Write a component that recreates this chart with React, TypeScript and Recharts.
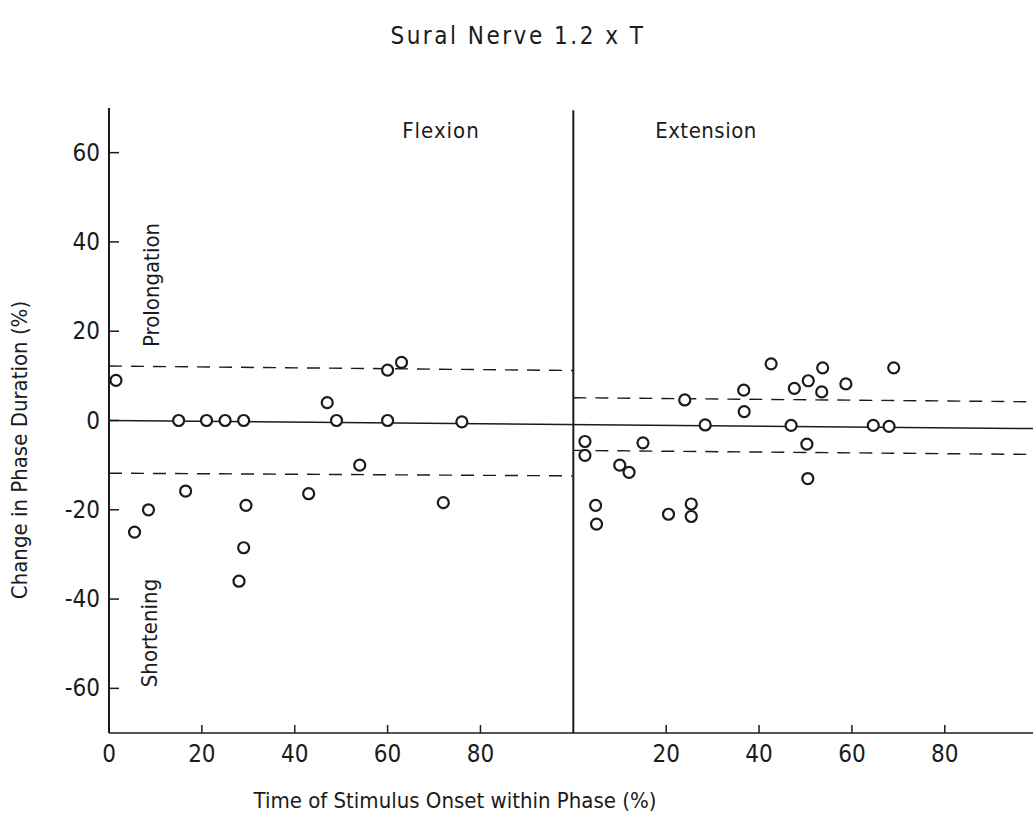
import React from 'react';
import {
  ReferenceLine,
  Scatter,
  ScatterChart,
  XAxis,
  YAxis,
} from 'recharts';

// Flexion phase: stimulus onset (% of phase) and change in phase duration (%)
const flexionOnset = [1.5, 15, 21, 25, 29, 49, 60, 76, 47, 60, 63, 54, 43, 72, 16.5, 8.5, 5.5, 29.5, 29, 28];
const flexionChange = [9, 0, 0, 0, 0, 0, 0, -0.3, 4, 11.3, 13, -10, -16.4, -18.4, -15.8, -20, -25, -19, -28.5, -36];

// Extension phase, onset measured from the start of extension
const extensionOnset = [
  2.5, 2.5, 10, 12, 15, 4.8, 5, 20.5, 25.4, 25.4, 24, 28.4, 36.7, 36.8, 42.6, 46.9, 47.6,
  50.6, 53.7, 53.5, 50.3, 50.5, 58.7, 64.6, 68, 69,
];
const extensionChange = [
  -4.7, -7.8, -10, -11.6, -5, -19, -23.2, -21, -18.7, -21.5, 4.6, -1, 6.8, 2, 12.7, -1.1, 7.2,
  8.9, 11.8, 6.4, -5.3, -13, 8.2, -1.1, -1.3, 11.8,
];

const xTicks = [0, 20, 40, 60, 80, 120, 140, 160, 180];
const yTicks = [-60, -40, -20, 0, 20, 40, 60];

// control bands (dashed) for each phase
const flexionBand = { upper: [12.2, 11.2], lower: [-11.8, -12.4] };
const extensionBand = { upper: [5.1, 4.2], lower: [-6.7, -7.6] };

const flexion = flexionOnset.map((x, i) => ({ x, y: flexionChange[i] }));
const extension = extensionOnset.map((x, i) => ({ x: x + 100, y: extensionChange[i] }));

const W = 1033;
const H = 820;
const FONT = "'Liberation Sans Narrow', 'DejaVu Sans Condensed', sans-serif";
const INK = '#1b1b1b';

const Ring = (props: any) => (
  <circle cx={props.cx} cy={props.cy} r={5.5} fill="#fff" stroke={INK} strokeWidth={2.2} />
);

const XTick = ({ x, y, payload }: any) => {
  const v = payload.value;
  return (
    <g>
      <line x1={x} y1={y} x2={x} y2={y - 8} stroke={INK} strokeWidth={1.5} />
      <text x={x} y={y + 29} textAnchor="middle" fontFamily={FONT} fontSize={24} fill={INK}>
        {v > 100 ? v - 100 : v}
      </text>
    </g>
  );
};

const YTick = ({ x, y, payload }: any) => (
  <g>
    <line x1={x} y1={y} x2={x + 10} y2={y} stroke={INK} strokeWidth={1.5} />
    <text x={x - 9} y={y + 8} textAnchor="end" fontFamily={FONT} fontSize={24} fill={INK}>
      {payload.value < 0 ? `-${-payload.value}` : payload.value}
    </text>
  </g>
);

const dash = { stroke: INK, strokeWidth: 1.4, strokeDasharray: '13 9' };

export default function App() {
  return (
    <div style={{ position: 'absolute', left: 0, top: 0, width: W, height: H, background: '#fff' }}>
      <ScatterChart width={W} height={H} margin={{ top: 108, right: 0, bottom: 47, left: 49 }}>
        <XAxis
          type="number"
          dataKey="x"
          domain={[0, 199]}
          ticks={xTicks}
          interval={0}
          allowDataOverflow
          height={40}
          tickSize={0}
          tickMargin={0}
          tickLine={false}
          tick={<XTick />}
          axisLine={{ stroke: INK, strokeWidth: 1.6 }}
        />
        <YAxis
          type="number"
          dataKey="y"
          domain={[-70, 70]}
          ticks={yTicks}
          interval={0}
          width={60}
          tickSize={0}
          tickMargin={0}
          tickLine={false}
          tick={<YTick />}
          axisLine={{ stroke: INK, strokeWidth: 2 }}
        />
        <ReferenceLine
          segment={[{ x: 0, y: 0 }, { x: 199, y: -1.8 }]}
          stroke={INK}
          strokeWidth={1.5}
          ifOverflow="visible"
        />
        <ReferenceLine segment={[{ x: 0, y: flexionBand.upper[0] }, { x: 100, y: flexionBand.upper[1] }]} {...dash} />
        <ReferenceLine segment={[{ x: 0, y: flexionBand.lower[0] }, { x: 100, y: flexionBand.lower[1] }]} {...dash} />
        <ReferenceLine segment={[{ x: 100, y: extensionBand.upper[0] }, { x: 199, y: extensionBand.upper[1] }]} {...dash} />
        <ReferenceLine segment={[{ x: 100, y: extensionBand.lower[0] }, { x: 199, y: extensionBand.lower[1] }]} {...dash} />
        <ReferenceLine
          segment={[{ x: 100, y: -70 }, { x: 100, y: 69.5 }]}
          stroke={INK}
          strokeWidth={2}
          ifOverflow="visible"
        />
        <Scatter data={flexion} shape={<Ring />} isAnimationActive={false} />
        <Scatter data={extension} shape={<Ring />} isAnimationActive={false} />
      </ScatterChart>

      <svg
        width={W}
        height={H}
        style={{ position: 'absolute', left: 0, top: 0, pointerEvents: 'none' }}
        fontFamily={FONT}
        fill={INK}
      >
        <text x={518} y={44} textAnchor="middle" fontSize={24} letterSpacing={2.5}>
          Sural Nerve  1.2 x T
        </text>
        <text x={441} y={138} textAnchor="middle" fontSize={22} letterSpacing={1}>
          Flexion
        </text>
        <text x={706} y={138} textAnchor="middle" fontSize={22} letterSpacing={0.5}>
          Extension
        </text>
        <text x={27} y={450} textAnchor="middle" fontSize={22} transform="rotate(-90 27 450)">
          Change in Phase Duration (%)
        </text>
        <text x={159} y={285} textAnchor="middle" fontSize={22} transform="rotate(-90 159 285)">
          Prolongation
        </text>
        <text x={157} y={633} textAnchor="middle" fontSize={22} transform="rotate(-90 157 633)">
          Shortening
        </text>
        <text x={455} y={808} textAnchor="middle" fontSize={22}>
          Time of Stimulus Onset within Phase (%)
        </text>
      </svg>
    </div>
  );
}
